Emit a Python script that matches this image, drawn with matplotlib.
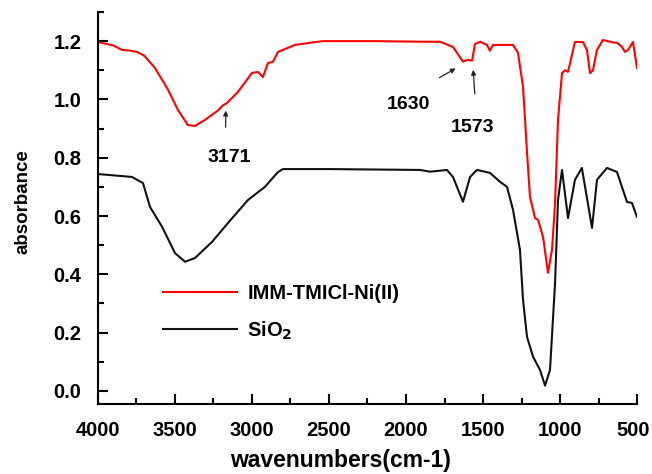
import matplotlib
matplotlib.use("Agg")
import matplotlib.pyplot as plt
from matplotlib.ticker import MultipleLocator, FormatStrFormatter

plt.rcParams['font.family'] = ['Liberation Sans', 'DejaVu Sans']
plt.rcParams['font.weight'] = 'bold'

# IMM-TMICl-Ni(II) spectrum
red_x = [4000, 3900, 3844, 3800, 3747, 3700, 3675, 3630, 3545, 3481, 3416, 3370, 3305, 3221, 3188,
         3171, 3162, 3091, 3000, 2961, 2929, 2896, 2864, 2831, 2721, 2600, 2539, 2200, 1900, 1779,
         1695, 1630, 1597, 1571, 1552, 1519, 1474, 1455, 1435, 1305, 1273, 1240, 1214, 1195, 1162,
         1143, 1110, 1078, 1052, 1032, 1013, 987, 968, 948, 903, 851, 825, 805, 786, 760,
         721, 660, 630, 597, 578, 558, 526, 500]
red_y = [1.197, 1.185, 1.17, 1.168, 1.163, 1.15, 1.135, 1.108, 1.033, 0.964, 0.912, 0.909, 0.93, 0.962, 0.98,
         0.985, 0.988, 1.026, 1.091, 1.094, 1.077, 1.125, 1.129, 1.163, 1.187, 1.196, 1.20, 1.20, 1.198, 1.198,
         1.18, 1.13, 1.136, 1.133, 1.19, 1.198, 1.187, 1.167, 1.187, 1.187, 1.16, 1.043, 0.816, 0.666, 0.593,
         0.587, 0.528, 0.405, 0.484, 0.645, 0.93, 1.09, 1.10, 1.095, 1.197, 1.197, 1.17, 1.09, 1.10, 1.17,
         1.204, 1.196, 1.194, 1.18, 1.163, 1.17, 1.197, 1.108]

# SiO2 spectrum
blk_x = [4000, 3779, 3708, 3662, 3584, 3500, 3435, 3370, 3260, 3156, 3026, 2916, 2831, 2799, 2494,
         1909, 1844, 1734, 1695, 1630, 1584, 1539, 1455, 1389, 1344, 1305, 1260, 1240, 1214, 1175,
         1130, 1097, 1065, 1032, 1013, 987, 948, 903, 858, 792, 760, 695, 630, 565, 533, 500]
blk_y = [0.744, 0.734, 0.713, 0.631, 0.563, 0.473, 0.443, 0.456, 0.511, 0.576, 0.655, 0.70, 0.751, 0.761, 0.761,
         0.758, 0.752, 0.758, 0.734, 0.649, 0.734, 0.758, 0.748, 0.717, 0.70, 0.621, 0.484, 0.312, 0.185, 0.117,
         0.072, 0.018, 0.072, 0.37, 0.655, 0.758, 0.593, 0.724, 0.765, 0.559, 0.724, 0.765, 0.751, 0.648, 0.645, 0.597]

x_ticks = [4000, 3500, 3000, 2500, 2000, 1500, 1000, 500]
x_tick_labels = ['4000', '3500', '3000', '2500', '2000', '1500', '1000', '500']
labels = ['IMM-TMICl-Ni(II)', 'SiO$_\\mathbf{2}$']

fig = plt.figure(figsize=(6.52, 4.74), dpi=100)
ax = fig.add_axes([0.1503, 0.1477, 0.8267, 0.827])
ax.plot(red_x, red_y, color='#ff0000', lw=1.5, label=labels[0])
ax.plot(blk_x, blk_y, color='#111111', lw=1.5, label=labels[1])

ax.set_xlim(4000, 500)
ax.set_ylim(-0.045, 1.30)
# last x label drawn separately so it can sit slightly left, inside the canvas
ax.set_xticks(x_ticks, x_tick_labels[:-1] + [''])
ax.xaxis.set_minor_locator(MultipleLocator(250))
ax.yaxis.set_major_locator(MultipleLocator(0.2))
ax.yaxis.set_minor_locator(MultipleLocator(0.1))
ax.yaxis.set_major_formatter(FormatStrFormatter('%.1f'))
ax.spines['top'].set_visible(False)
ax.spines['right'].set_visible(False)
for s in ('left', 'bottom'):
    ax.spines[s].set_linewidth(1.5)
ax.tick_params(which='major', direction='in', length=7, width=1.5, labelsize=14.5, pad=12)
ax.tick_params(which='minor', direction='in', length=4, width=1.5)

first_lbl = ax.get_xticklabels()[0]
ax.annotate(x_tick_labels[-1], xy=(x_ticks[-1], 0), xycoords=('data', 'axes fraction'),
            xytext=(-3, -12), textcoords='offset points', ha='center', va='top',
            fontsize=14.5, fontweight='bold')

fig.text(341 / 652, 1 - 460 / 474, 'wavenumbers(cm-1)', fontsize=16.5, fontweight='bold',
         ha='center', va='center')
fig.text(23 / 652, 1 - 202 / 474, 'absorbance', fontsize=13.5, fontweight='bold',
         ha='center', va='center', rotation=90)

arrowprops = dict(arrowstyle='-|>', color='#222222', lw=0.9, mutation_scale=7)
ax.annotate('', xy=(3171, 0.971), xytext=(3171, 0.895), arrowprops=arrowprops)
ax.text(3150, 0.80, '3171', fontsize=14, fontweight='bold', ha='center', va='center')
ax.annotate('', xy=(1662, 1.111), xytext=(1799, 1.070), arrowprops=arrowprops)
ax.text(1987, 0.981, '1630', fontsize=14, fontweight='bold', ha='center', va='center')
ax.annotate('', xy=(1565, 1.111), xytext=(1552, 1.009), arrowprops=arrowprops)
ax.text(1565, 0.902, '1573', fontsize=14, fontweight='bold', ha='center', va='center')

ax.legend(loc='upper left', bbox_to_anchor=(0.12, 0.305), frameon=False, fontsize=14.5,
          handlelength=3.7, labelspacing=0.8, borderpad=0, borderaxespad=0, handletextpad=0.5)

fig.savefig('out.png', dpi=100)
